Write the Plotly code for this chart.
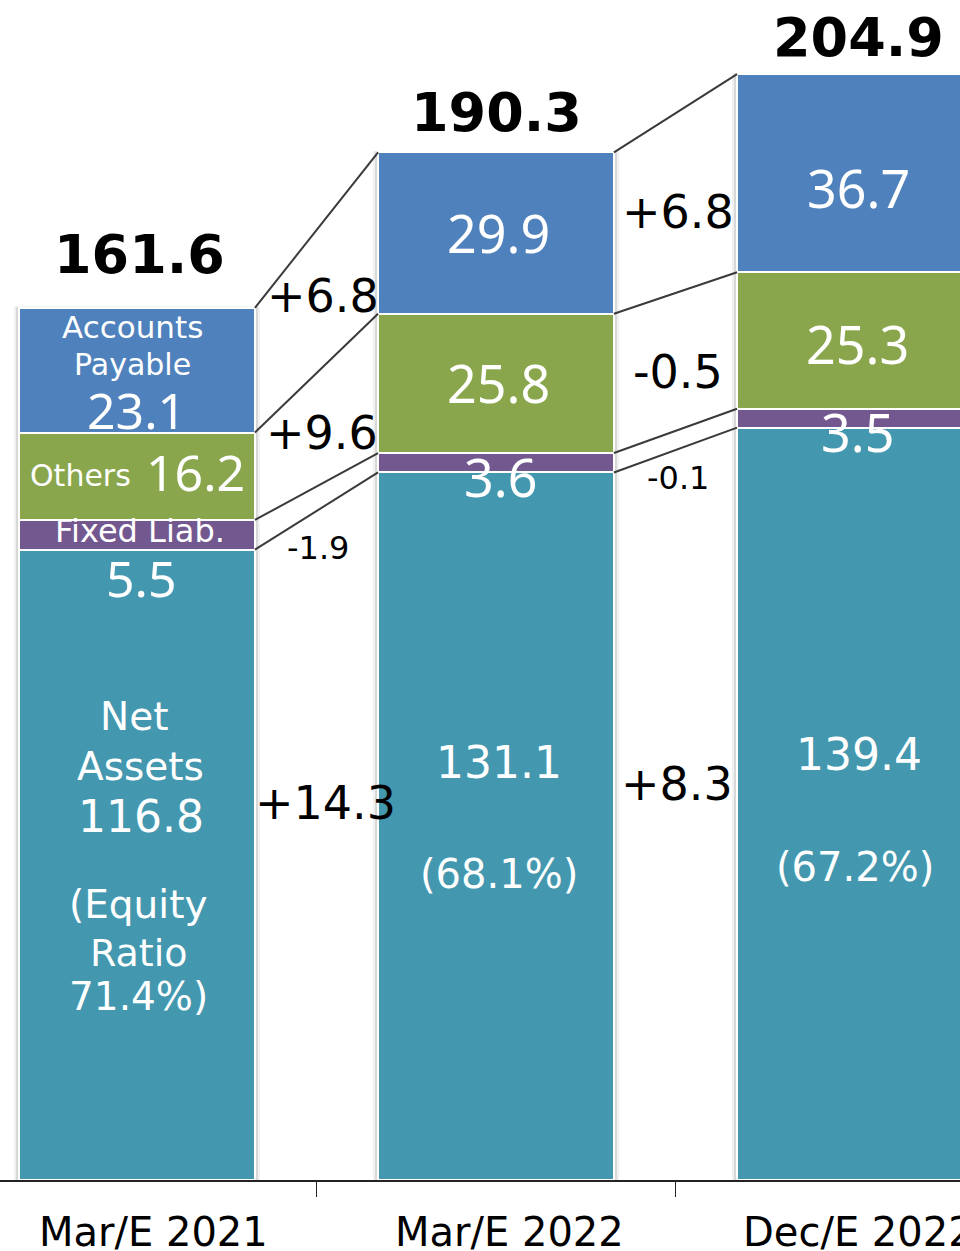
import plotly.graph_objects as go

# ---------------- data ----------------
categories = ["Mar/E 2021", "Mar/E 2022", "Dec/E 2022"]
net_assets = [116.8, 131.1, 139.4]
fixed_liab = [5.5, 3.6, 3.5]
others = [16.2, 25.8, 25.3]
accounts_payable = [23.1, 29.9, 36.7]
totals = [161.6, 190.3, 204.9]
equity_ratio = ["71.4%", "68.1%", "67.2%"]
delta_ap = ["+6.8", "+6.8"]
delta_others = ["+9.6", "-0.5"]
delta_fixed = ["-1.9", "-0.1"]
delta_net = ["+14.3", "+8.3"]

# ---------------- layout geometry ----------------
W, H = 960, 1251
PLOT_BOTTOM = 1180          # pixel y of the baseline
PX_PER_UNIT = 5.397         # vertical scale
X0_PX, X_STEP_PX = 137, 359 # centre of first bar, distance between bars
BAR_W = 0.657
CAT_LABEL_XSHIFT = [16, 13, 3]

def px2x(px):
    return (px - X0_PX) / X_STEP_PX

def py2y(py):
    return (PLOT_BOTTOM - py) / PX_PER_UNIT

xs = list(range(len(categories)))

C_AP = "#4F81BD"
C_OT = "#8AA64C"
C_FX = "#72588F"
C_NA = "#4398B0"

fig = go.Figure()
for name, vals, col in [("Net Assets", net_assets, C_NA),
                        ("Fixed Liab.", fixed_liab, C_FX),
                        ("Others", others, C_OT),
                        ("Accounts Payable", accounts_payable, C_AP)]:
    fig.add_trace(go.Bar(x=xs, y=vals, name=name, width=BAR_W,
                         marker=dict(color=col, line=dict(color="white", width=2)),
                         hoverinfo="skip", showlegend=False))

shapes = []
# soft shadow behind bars
for i in xs:
    tot = net_assets[i] + fixed_liab[i] + others[i] + accounts_payable[i]
    for ext, a in [(5, 0.06), (3, 0.10)]:
        d = ext / X_STEP_PX
        shapes.append(dict(type="rect", layer="below", xref="x", yref="y",
                           x0=i - BAR_W / 2 - d, x1=i + BAR_W / 2 + d,
                           y0=0, y1=tot + ext / PX_PER_UNIT * 0.3,
                           fillcolor=f"rgba(0,0,0,{a})", line=dict(width=0)))

# connector lines between bars
def levels(i):
    a = net_assets[i]
    b = a + fixed_liab[i]
    c = b + others[i]
    d = c + accounts_payable[i]
    return [a, b, c, d]

for i in range(len(categories) - 1):
    l0, l1 = levels(i), levels(i + 1)
    for y0, y1 in zip(l0, l1):
        shapes.append(dict(type="line", xref="x", yref="y",
                           x0=i + BAR_W / 2, x1=i + 1 - BAR_W / 2,
                           y0=y0, y1=y1,
                           line=dict(color="#3A3A3A", width=2)))

ann = []
def add(text, px, py, size, color="white", family="DejaVu Sans"):
    ann.append(dict(text=text, x=px2x(px), y=py2y(py), xref="x", yref="y",
                    showarrow=False, xanchor="center", yanchor="middle",
                    font=dict(size=size, color=color, family=family)))

NOTO = "Noto Sans"
# totals
add(f"<b>{totals[0]}</b>", 139, 254, 54, "black")
add(f"<b>{totals[1]}</b>", 496, 112, 54, "black")
add(f"<b>{totals[2]}</b>", 858, 37, 54, "black")

# bar 1 labels
add("Accounts", 132, 327, 31)
add("Payable", 132, 364, 30)
add(f"{accounts_payable[0]}", 136, 410, 50, family=NOTO)
add("Others", 80, 475, 30)
add(f"{others[0]}", 195, 472, 50, family=NOTO)
add("Fixed Liab.", 140, 531, 32)
add(f"{fixed_liab[0]}", 141, 578, 50, family=NOTO)
add("Net", 134, 716, 39)
add("Assets", 140, 766, 39)
add(f"{net_assets[0]}", 141, 816, 44)
add("(Equity", 138, 904, 39)
add("Ratio", 139, 953, 38)
add(f"{equity_ratio[0]})", 138, 996, 39)

# bar 2 labels
add(f"{accounts_payable[1]}", 498, 232, 52, family=NOTO)
add(f"{others[1]}", 498, 382, 52, family=NOTO)
add(f"{fixed_liab[1]}", 500, 476, 52, family=NOTO)
add(f"{net_assets[1]}", 499, 762, 44)
add(f"({equity_ratio[1]})", 499, 874, 40)

# bar 3 labels
add(f"{accounts_payable[2]}", 858, 187, 52, family=NOTO)
add(f"{others[2]}", 857, 343, 52, family=NOTO)
add(f"{fixed_liab[2]}", 857, 431, 52, family=NOTO)
add(f"{net_assets[2]}", 859, 754, 44)
add(f"({equity_ratio[2]})", 855, 867, 40)

# deltas
add(delta_ap[0], 323, 296, 46, "black")
add(delta_others[0], 322, 433, 46, "black")
add(delta_fixed[0], 318, 548, 32, "black")
add(delta_net[0], 325, 803, 46, "black")
add(delta_ap[1], 678, 212, 46, "black")
add(delta_others[1], 678, 372, 46, "black")
add(delta_fixed[1], 678, 478, 32, "black")
add(delta_net[1], 677, 784, 46, "black")

# category labels
for i, c in enumerate(categories):
    ann.append(dict(text=c, x=i, y=0, xref="x", yref="y",
                    xshift=CAT_LABEL_XSHIFT[i], yshift=-52,
                    showarrow=False, xanchor="center", yanchor="middle",
                    font=dict(size=40, color="black", family="DejaVu Sans")))

fig.update_layout(
    width=W, height=H,
    margin=dict(l=0, r=0, t=0, b=H - PLOT_BOTTOM, pad=0),
    paper_bgcolor="white", plot_bgcolor="white",
    barmode="stack", bargap=0,
    shapes=shapes, annotations=ann,
    xaxis=dict(range=[px2x(0), px2x(W)], showgrid=False, zeroline=False,
               tickvals=[0.5, 1.5], ticktext=["", ""], ticks="outside",
               ticklen=15, tickwidth=1.5, tickcolor="#222",
               showline=True, linecolor="#222", linewidth=1.5,
               showticklabels=False, fixedrange=True),
    yaxis=dict(range=[0, py2y(0)], visible=False, fixedrange=True),
    showlegend=False,
)

fig.write_html("out.html",
               config={"displayModeBar": False, "staticPlot": True},
               post_script="document.body.style.margin='0';"
                           "document.body.style.overflow='hidden';")
